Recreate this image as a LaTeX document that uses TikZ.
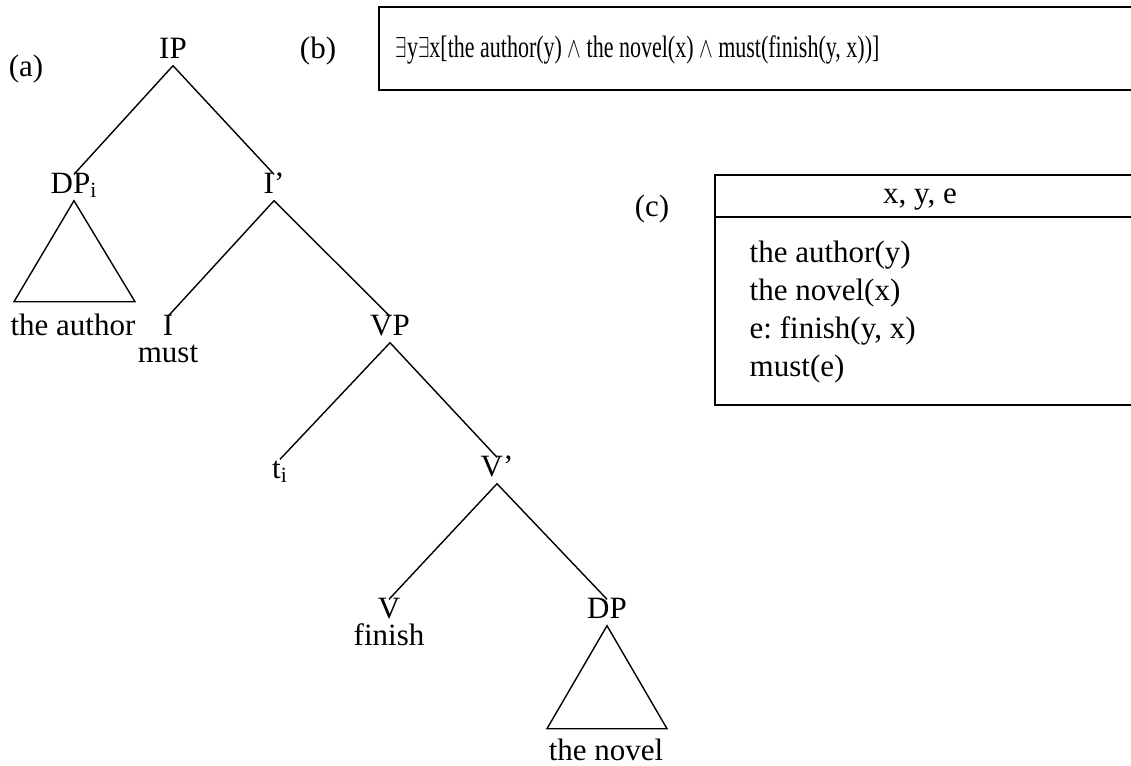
\documentclass[tikz,border=0pt]{standalone}
\usepackage{fontspec}
\setmainfont{Liberation Serif}
\usetikzlibrary{positioning}
\frenchspacing

\begin{document}
\begin{tikzpicture}[x=0.5pt, y=-0.5pt, line width=0.7pt,
  font=\fontsize{15.5}{18}\selectfont,
  cat/.style={anchor=base, inner sep=1.5pt, text height=0.75em, text depth=0.2em},
  nucleo/.style={cat, text depth=0pt},
  palavra/.style={anchor=base, inner sep=0pt},
  caixa/.style={line width=0.9pt}]
  \useasboundingbox (0,0) rectangle (1131,766);

  % Árvore (a)
  \node[palavra] (rotA) at (26,76) {(a)};
  \node[cat] (ip) at (173,58) {IP};
  \node[cat] (dpi) at (74,193) {DP\textsubscript{i}};
  \node[cat] (ibar) at (274,193) {I'};
  \node[palavra] (autor) at (73,335) {the author};
  \node[nucleo] (infl) at (168,335) {I};
  \node[palavra] (must) at (168,362) {must};
  \node[cat] (vp) at (390,335) {VP};
  \node[cat] (ti) at (280,478) {t\textsubscript{i}};
  \node[cat] (vbar) at (497,476) {V'};
  \node[nucleo] (verbo) at (389,618) {V};
  \node[palavra] (finish) at (389,645) {finish};
  \node[cat] (dp) at (607,618) {DP};
  \node[palavra] (romance) at (606,760) {the novel};

  % Ramos
  \draw (ip.south) -- (dpi.north);
  \draw (ip.south) -- (ibar.north);
  \draw (ibar.south) -- (infl.north);
  \draw (ibar.south) -- (vp.north);
  \draw (vp.south) -- (ti.north);
  \draw (vp.south) -- (vbar.north);
  \draw (vbar.south) -- (verbo.north);
  \draw (vbar.south) -- (dp.north);

  % Triângulos
  \draw (dpi.south) -- ++(-60,101) -- ++(121,0) -- cycle;
  \draw (dp.south) -- ++(-60,103) -- ++(120,0) -- cycle;

  % Fórmula (b)
  \node[palavra] (rotB) at (318,58) {(b)};
  \draw[caixa] (1131,7) -| (379,90) -- (1131,90);
  \node[palavra, anchor=base west] (formula) at (395,57)
    {\scalebox{0.71}[1]{$\exists$y$\exists$x[the author(y) $\wedge$ the novel(x) $\wedge$ must(finish(y, x))]}};

  % DRS (c)
  \node[palavra] (rotC) at (652,216) {(c)};
  \draw[caixa] (1131,175) -| (715,405) -- (1131,405);
  \draw[caixa] (715,217) -- (1131,217);
  \node[palavra] (universo) at (920,203) {x, y, e};
  \foreach \cond [count=\i] in {{the author(y)}, {the novel(x)}, {e: finish(y, x)}, {must(e)}} {
    \node[palavra, anchor=base west] (cond\i) at (749,{262+38*(\i-1)}) {\cond};
  }
\end{tikzpicture}
\end{document}
